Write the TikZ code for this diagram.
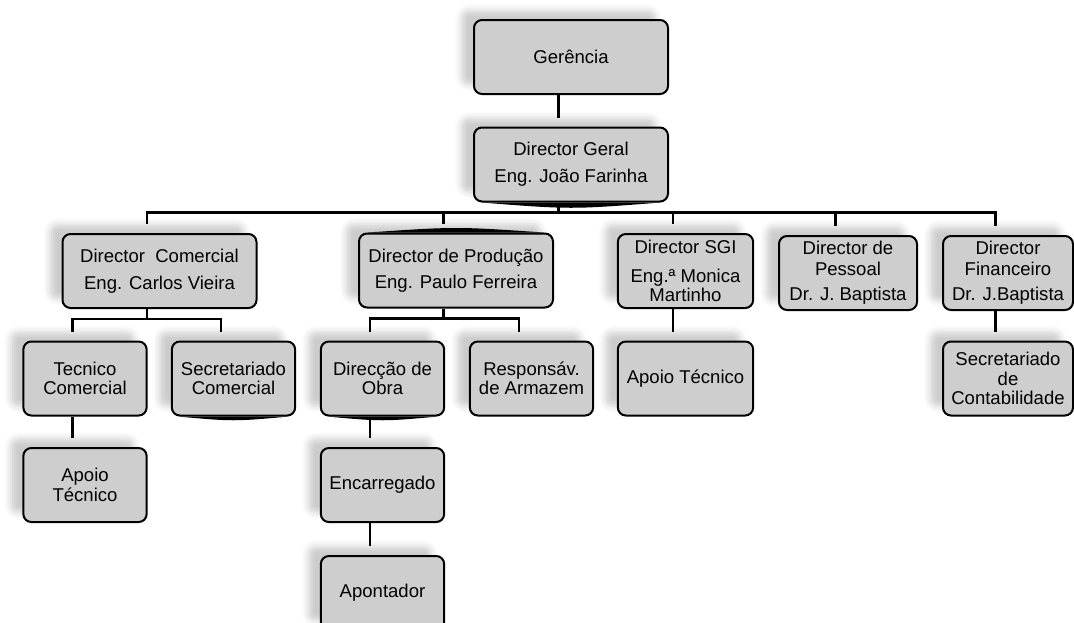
\documentclass[tikz,border=0pt]{standalone}
\usepackage{fontspec}
\setmainfont{Liberation Sans}
\usetikzlibrary{calc,shadows.blur}
\definecolor{orgfill}{RGB}{206,206,206}

\tikzset{
  orgbox/.style={draw=black,line width=1.5pt,rounded corners=6pt,fill=orgfill,
    align=center,inner sep=1pt,minimum height=55.5pt,
    font=\fontsize{13.9}{14.5}\selectfont,
    blur shadow={shadow xshift=-9.4pt,shadow yshift=7pt,shadow blur radius=5pt,shadow opacity=20}},
  bigbox/.style={orgbox,minimum width=145.5pt},
  smallbox/.style={orgbox,minimum width=92.5pt},
  link/.style={line width=1.6pt,draw=black}
}

\begin{document}
\begin{tikzpicture}[x=0.75pt,y=-0.75pt]
\useasboundingbox (0,0) rectangle (1074,622);
% top
\node[bigbox] (ger) at (571,57) {Gerência};
\node[bigbox] (dirg) at (571,164.5) {Director Geral\\[5.5pt]Eng. João Farinha};
% directors
\node[bigbox] (dcom) at (159.5,271) {Director\ \ Comercial\\[5.5pt]Eng. Carlos Vieira};
\node[bigbox] (dprod) at (456,270.5) {Director de Produção\\[5pt]Eng. Paulo Ferreira};
\node[orgbox,minimum width=101.5pt] (dsgi) at (685.5,271) {Director SGI\\[7pt]Eng.ª Monica\\[-0.5pt]Martinho};
\node[orgbox,minimum width=103.5pt] (dpes) at (848,273) {Director de\\[1pt]Pessoal\\[4.5pt]Dr. J. Baptista};
\node[orgbox,minimum width=97.5pt] (dfin) at (1008,273) {Director\\[1pt]Financeiro\\[4.5pt]Dr. J.Baptista};
% third level
\node[smallbox] (tcom) at (85,378.5) {Tecnico\\Comercial};
\node[smallbox] (scom) at (233.5,378.5) {Secretariado\\Comercial};
\node[smallbox] (dobra) at (382.5,378.5) {Direcção de\\Obra};
\node[smallbox] (resp) at (531.5,378.5) {Responsáv.\\de Armazem};
\node[orgbox,minimum width=101.5pt] (apsgi) at (685.5,378.5) {Apoio Técnico};
\node[orgbox,minimum width=97.5pt] (scont) at (1008,378.5) {Secretariado\\de\\Contabilidade};
% lower levels
\node[smallbox] (aptec) at (85,485) {Apoio\\Técnico};
\node[smallbox] (enc) at (382.5,485) {Encarregado};
\node[smallbox] (apont) at (382.5,593) {Apontador};

% attach points (shadow centre)
\foreach \n in {ger,dirg,dcom,dprod,dsgi,dpes,dfin,tcom,scom,dobra,resp,apsgi,scont,aptec,enc,apont} {
  \coordinate (\n-t) at ($(\n.north)+(-12.5,-9)$);
  \coordinate (\n-b) at ($(\n.south)+(-12.5,0)$);
}

% connectors
\draw[link] (ger-b) -- (dirg-t);
\path (dirg-b) ++(0,10) coordinate (bus1);
\draw[link] (dirg-b) -- (bus1);
\draw[link] (dcom-t) |- (bus1) -| (dfin-t);
\foreach \n in {dprod,dsgi,dpes} \draw[link] (\n-t) -- (\n-t |- bus1);
\path (dcom-b) ++(0,10) coordinate (bus2);
\draw[link] (dcom-b) -- (bus2);
\draw[link] (tcom-t) |- (bus2) -| (scom-t);
\path (dprod-b) ++(0,10) coordinate (bus3);
\draw[link] (dprod-b) -- (bus3);
\draw[link] (dobra-t) |- (bus3) -| (resp-t);
\draw[link] (dsgi-b) -- (apsgi-t);
\draw[link] (dfin-b) -- (scont-t);
\draw[link] (tcom-b) -- (aptec-t);
\draw[link] (dobra-b) -- (enc-t);
\draw[link] (enc-b) -- (apont-t);

% heavy edges
\fill ($(dirg.south west)+(8,0)$) .. controls ($(dirg.south)+(0,7)$) .. ($(dirg.south east)+(-8,0)$) -- cycle;
\fill ($(dprod.north west)+(10,0)$) .. controls ($(dprod.north)+(0,-6)$) .. ($(dprod.north east)+(-10,0)$) -- cycle;
\fill ($(scom.south west)+(7,0)$) .. controls ($(scom.south)+(0,5)$) .. ($(scom.south east)+(-7,0)$) -- cycle;
\fill ($(dobra.south west)+(7,0)$) .. controls ($(dobra.south)+(0,5)$) .. ($(dobra.south east)+(-7,0)$) -- cycle;
\end{tikzpicture}
\end{document}
